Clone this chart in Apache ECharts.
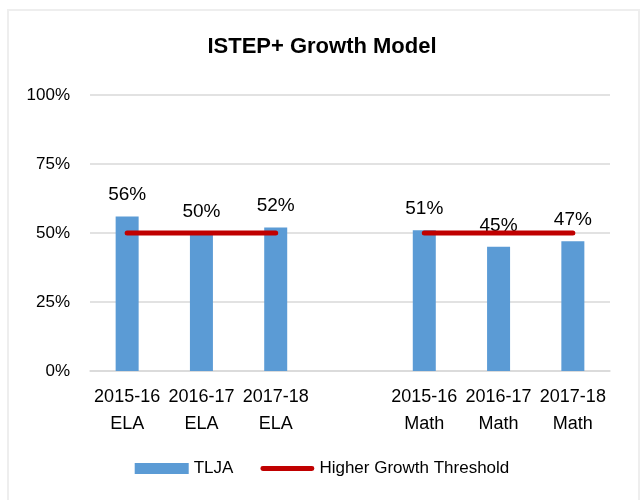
<!DOCTYPE html>
<html>
<head>
<meta charset="utf-8">
<script src="https://cdn.jsdelivr.net/npm/echarts@6/dist/echarts.min.js"></script>
<style>
  html, body { margin: 0; padding: 0; background: #fff; }
  #myChart { width: 644px; height: 500px; }
</style>
</head>
<body>
<div id="myChart"></div>
<script>
// 分类（中间空一格分隔 ELA / Math）
const categories = ["2015-16\nELA", "2016-17\nELA", "2017-18\nELA", "", "2015-16\nMath", "2016-17\nMath", "2017-18\nMath"];
const tljaValues = [56, 50, 52, null, 51, 45, 47]; // TLJA
const thresholdValues = [50, 50, 50, null, 50, 50, 50]; // Higher Growth Threshold
const yTicks = [0, 25, 50, 75, 100];

const font = "Liberation Sans, Arial, sans-serif";
// 图例里的粗红线（圆头）
const lineIcon = "path://M2.5,0 L53.5,0 A2.5,2.5 0 0 1 53.5,5 L2.5,5 A2.5,2.5 0 0 1 2.5,0 Z";

const myChart = echarts.init(document.getElementById("myChart"));
const option = {
  animation: false,
  textStyle: { fontFamily: font },
  graphic: [
    {
      type: "rect",
      shape: { x: 8, y: 10, width: 631, height: 500 },
      style: { fill: "none", stroke: "#eeeeee", lineWidth: 2 },
      silent: true,
    },
  ],
  title: {
    text: "ISTEP+ Growth Model",
    left: "center",
    top: 31,
    textStyle: { fontFamily: font, fontSize: 22, fontWeight: "bold", color: "#000" },
  },
  legend: {
    bottom: 18,
    left: "center",
    itemWidth: 54,
    itemHeight: 11,
    itemGap: 27,
    textStyle: { fontFamily: font, fontSize: 17, color: "#000" },
    data: [
      { name: "TLJA", icon: "rect" },
      { name: "Higher Growth Threshold", icon: lineIcon },
    ],
  },
  grid: { left: 90, right: 34, top: 95, bottom: 129 },
  xAxis: {
    type: "category",
    data: categories,
    axisLine: { lineStyle: { color: "#d9d9d9", width: 1.5 } },
    axisTick: { show: false },
    axisLabel: {
      interval: 0,
      fontFamily: font,
      fontSize: 18,
      lineHeight: 27,
      margin: 13,
      color: "#000",
    },
  },
  yAxis: {
    type: "value",
    min: yTicks[0],
    max: yTicks[yTicks.length - 1],
    interval: 25,
    axisLine: { show: false },
    axisTick: { show: false },
    splitLine: { lineStyle: { color: "#d9d9d9", width: 1.5 } },
    axisLabel: {
      formatter: "{value}%",
      fontFamily: font,
      fontSize: 17,
      margin: 20,
      color: "#000",
    },
  },
  series: [
    {
      name: "TLJA",
      type: "bar",
      data: tljaValues,
      barWidth: 23,
      itemStyle: { color: "#5B9BD5" },
      label: {
        show: true,
        position: "top",
        distance: 12,
        formatter: "{c}%",
        fontFamily: font,
        fontSize: 19,
        color: "#000",
      },
    },
    {
      name: "Higher Growth Threshold",
      type: "line",
      data: thresholdValues,
      symbol: "none",
      connectNulls: false,
      lineStyle: { color: "#C00000", width: 5, cap: "round" },
      itemStyle: { color: "#C00000" },
      z: 3,
    },
  ],
};
myChart.setOption(option);
</script>
</body>
</html>
